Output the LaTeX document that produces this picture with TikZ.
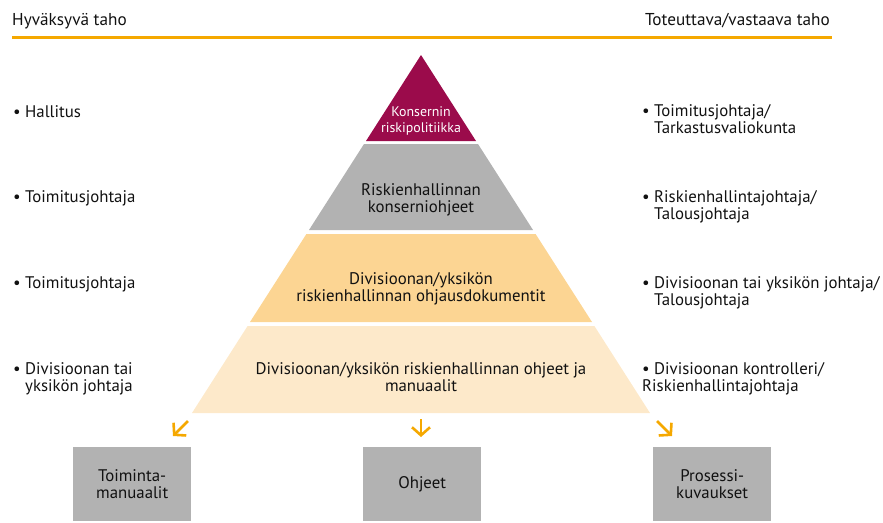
\documentclass[tikz,border=0pt]{standalone}
\usepackage{fontspec}
\setmainfont{PT Sans}
\usetikzlibrary{arrows.meta}
\definecolor{accent}{HTML}{F5A800}
\definecolor{wine}{HTML}{9B0B4B}
\definecolor{greyband}{HTML}{B2B2B2}
\definecolor{darkband}{HTML}{FCD593}
\definecolor{lightband}{HTML}{FDE9CA}
\definecolor{ink}{HTML}{111111}
\newcommand\bul{\makebox[12pt][l]{\textbullet}}
\newcommand\hang{\hspace*{12pt}}
\tikzset{
  txt/.style={font=\fontsize{16.8}{17.5}\selectfont, text=ink, inner sep=0pt, align=left},
  small/.style={font=\fontsize{13.9}{15.5}\selectfont, inner sep=0pt},
  band/.style={txt, align=center},
  boxnode/.style={fill=greyband, minimum width=118pt, minimum height=74pt, txt, align=center, anchor=north west},
  flow/.style={draw=accent, line width=2.6pt, -{Straight Barb[length=8pt,width=18pt]}},
}
\begin{document}
\begin{tikzpicture}[x=1pt,y=-1pt]
\useasboundingbox (0,0) rectangle (883,522);
% header
\node[txt, font=\fontsize{17.2}{18}\selectfont, anchor=base west] (hleft) at (12,25) {Hyväksyvä taho};
\node[txt, font=\fontsize{17.2}{18}\selectfont, anchor=base east] (hright) at (830,25) {Toteuttava/vastaava taho};
\draw[accent, line width=3pt] (12,37) -- (832,37);
% pyramid
\fill[wine] (421,55) -- (476,141) -- (366,141) -- cycle;
\fill[greyband] (364,144) -- (478,144) -- (533,230) -- (309,230) -- cycle;
\fill[darkband] (306.4,234) -- (535.6,234) -- (592,322) -- (250,322) -- cycle;
\fill[lightband] (247.6,326) -- (594.4,326) -- (650,413) -- (192,413) -- cycle;
\node[small, text=white, align=center] (l1) at (421,121) {Konsernin\\riskipolitiikka};
\node[band] (l2) at (421,200) {Riskienhallinnan\\konserniohjeet};
\node[band] (l3) at (421,289) {Divisioonan/yksikön\\riskienhallinnan ohjausdokumentit};
\node[band] (l4) at (421,377) {Divisioonan/yksikön riskienhallinnan ohjeet ja\\manuaalit};
% left column
\node[txt, anchor=north west] (a1) at (13,105) {\bul Hallitus};
\node[txt, anchor=north west] (a2) at (13,190) {\bul Toimitusjohtaja};
\node[txt, anchor=north west] (a3) at (13,276) {\bul Toimitusjohtaja};
\node[txt, anchor=north west] (a4) at (13,362) {\bul Divisioonan tai\\\hang yksikön johtaja};
% right column
\node[txt, anchor=north west] (b1) at (642,104) {\bul Toimitusjohtaja/\\\hang Tarkastusvaliokunta};
\node[txt, anchor=north west] (b2) at (642,190) {\bul Riskienhallintajohtaja/\\\hang Talousjohtaja};
\node[txt, anchor=north west] (b3) at (642,276) {\bul Divisioonan tai yksikön johtaja/\\\hang Talousjohtaja};
\node[txt, anchor=north west] (b4) at (642,362) {\bul Divisioonan kontrolleri/\\Riskienhallintajohtaja};
% boxes
\node[boxnode] (c1) at (73,447) {Toiminta-\\manuaalit};
\node[boxnode] (c2) at (363,447) {Ohjeet};
\node[boxnode] (c3) at (653,447) {Prosessi-\\kuvaukset};
% arrows
\coordinate (s1) at (188,421); \coordinate (e1) at (173,436);
\coordinate (s2) at (421,419); \coordinate (e2) at (421,437);
\coordinate (s3) at (657,421); \coordinate (e3) at (672,436);
\draw[flow] (s1) -- (e1);
\draw[flow] (s2) -- (e2);
\draw[flow] (s3) -- (e3);
\end{tikzpicture}
\end{document}
